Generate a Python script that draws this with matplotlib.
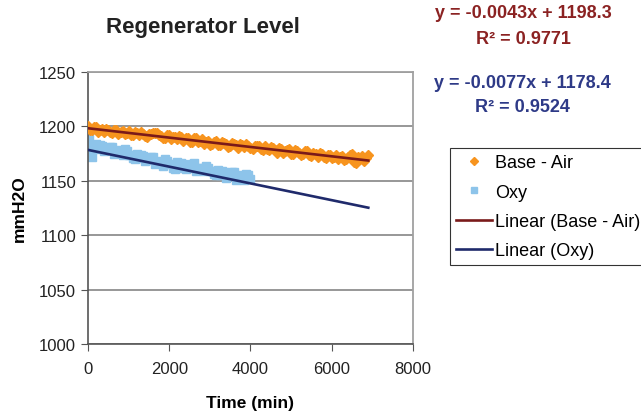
import matplotlib

matplotlib.use("Agg")
import matplotlib.pyplot as plt
import numpy as np

plt.rcParams["font.family"] = ["Liberation Sans", "DejaVu Sans"]

# Base - Air readings, logged every 100 min, plus the in-between readings
base_time = np.arange(0, 7000, 100)
base_level = [
  1200, 1197, 1199, 1197, 1195, 1197, 1194, 1197, 1195, 1193,
  1196, 1192, 1194, 1195, 1191, 1193, 1194, 1194, 1191, 1189,
  1192, 1190, 1188, 1190, 1189, 1186, 1189, 1186, 1188, 1186,
  1183, 1186, 1183, 1186, 1184, 1182, 1184, 1180, 1183, 1184,
  1180, 1182, 1182, 1178, 1179, 1181, 1178, 1180, 1176, 1178,
  1175, 1178, 1176, 1175, 1177, 1173, 1175, 1176, 1172, 1174,
  1171, 1174, 1172, 1169, 1172, 1175, 1166, 1171, 1168, 1174,
]
base_time_b = np.arange(50, 6900, 100)
base_level_b = [
  1197, 1199, 1195, 1198, 1198, 1195, 1197, 1193, 1196, 1194,
  1192, 1195, 1192, 1193, 1190, 1193, 1194, 1192, 1189, 1192,
  1188, 1190, 1191, 1187, 1189, 1186, 1189, 1187, 1184, 1187,
  1184, 1187, 1183, 1185, 1181, 1185, 1183, 1184, 1181, 1182,
  1179, 1182, 1179, 1182, 1178, 1180, 1176, 1179, 1177, 1179,
  1175, 1177, 1174, 1177, 1174, 1176, 1172, 1175, 1171, 1174,
  1172, 1170, 1173, 1170, 1174, 1167, 1172, 1173, 1171,
]

# Oxy readings
oxy_time = [0, 0, 20, 40, 60, 80, 100, 150, 200] + list(range(300, 4100, 100))
oxy_level = [
  1194, 1186, 1191, 1183, 1179, 1175, 1172, 1180, 1184,
  1183, 1177, 1180, 1181, 1176, 1177, 1179, 1174, 1171, 1175,
  1174, 1168, 1171, 1172, 1166, 1167, 1170, 1165, 1162, 1167,
  1166, 1161, 1164, 1166, 1160, 1162, 1164, 1159, 1156, 1160,
  1159, 1153, 1156, 1158, 1152, 1154, 1156, 1152,
]
oxy_time_b = list(range(250, 4000, 100))
oxy_level_b = [
  1179, 1182, 1178, 1181, 1175, 1178, 1174, 1177, 1174, 1170,
  1171, 1173, 1169, 1172, 1165, 1168, 1164, 1168, 1165, 1161,
  1162, 1165, 1162, 1165, 1159, 1162, 1159, 1162, 1159, 1155,
  1155, 1158, 1154, 1158, 1151, 1155, 1151, 1155,
]

# Excel trendline fits as printed on the chart
base_fit = (-0.0043, 1198.3, 0.9771)
oxy_fit = (-0.0077, 1178.4, 0.9524)
trend_time = [0, 6900]

ORANGE = "#F7941E"
LIGHT_BLUE = "#8DC4EA"
MAROON = "#7A1A1A"
NAVY = "#1F2A6B"

fig = plt.figure(figsize=(6.41, 4.14), dpi=100)
ax = fig.add_axes([88 / 641, 69 / 414, 325 / 641, 272 / 414])

bx = np.concatenate([base_time, base_time_b])
by = np.concatenate([base_level, base_level_b])
ox = np.concatenate([oxy_time, oxy_time_b])
oy = np.concatenate([oxy_level, oxy_level_b])
ax.plot(bx, by, "D", color=ORANGE, ms=4.6, mec=ORANGE, label="Base - Air", zorder=3)
ax.plot(ox, oy, "s", color=LIGHT_BLUE, ms=5.5, mec=LIGHT_BLUE, label="Oxy", zorder=2)

tx = np.array(trend_time)
ax.plot(tx, base_fit[0] * tx + base_fit[1], color=MAROON, lw=1.9, label="Linear (Base - Air)", zorder=4)
ax.plot(tx, oxy_fit[0] * tx + oxy_fit[1], color=NAVY, lw=1.9, label="Linear (Oxy)", zorder=4)

ax.set_xlim(0, 8000)
ax.set_ylim(1000, 1250)
ax.set_xticks([0, 2000, 4000, 6000, 8000])
ax.set_yticks([1000, 1050, 1100, 1150, 1200, 1250])
ax.grid(axis="y", color="#7a7a7a", lw=1.1)
ax.set_axisbelow(True)
ax.tick_params(labelsize=12, length=5, color="#555555", labelcolor="#222222")
ax.tick_params(axis="x", pad=7)
for side in ("top", "right"):
  ax.spines[side].set_color("#a0a0a0")
  ax.spines[side].set_linewidth(1.3)
for side in ("left", "bottom"):
  ax.spines[side].set_color("#555555")
  ax.spines[side].set_linewidth(1.2)

ax.set_xlabel("Time (min)", fontsize=12.5, fontweight="bold", labelpad=14)
ax.set_ylabel("mmH2O", fontsize=12.5, fontweight="bold", labelpad=9)
fig.text(203 / 641, 1 - 27 / 414, "Regenerator Level", fontsize=16, fontweight="bold",
         ha="center", va="center", color="#222222")

eq_kw = dict(fontsize=13, fontweight="bold", ha="center", va="center")
fig.text(523 / 641, 1 - 13 / 414, f"y = {base_fit[0]:.4f}x + {base_fit[1]:.1f}", color="#8B2222", **eq_kw)
fig.text(523 / 641, 1 - 40 / 414, f"R² = {base_fit[2]:.4f}", color="#8B2222", **eq_kw)
fig.text(522 / 641, 1 - 84 / 414, f"y = {oxy_fit[0]:.4f}x + {oxy_fit[1]:.1f}", color="#2E3A87", **eq_kw)
fig.text(522 / 641, 1 - 108 / 414, f"R² = {oxy_fit[2]:.4f}", color="#2E3A87", **eq_kw)

leg = fig.legend(loc="upper left", bbox_to_anchor=(450 / 641, 1 - 149 / 414), fontsize=13,
                 frameon=True, fancybox=False, edgecolor="black", handlelength=1.95,
                 handletextpad=0.2, labelspacing=0.68, borderpad=0.35, borderaxespad=0,
                 markerscale=0.85)
leg.get_frame().set_linewidth(0.8)

fig.savefig("out.png", dpi=100)
